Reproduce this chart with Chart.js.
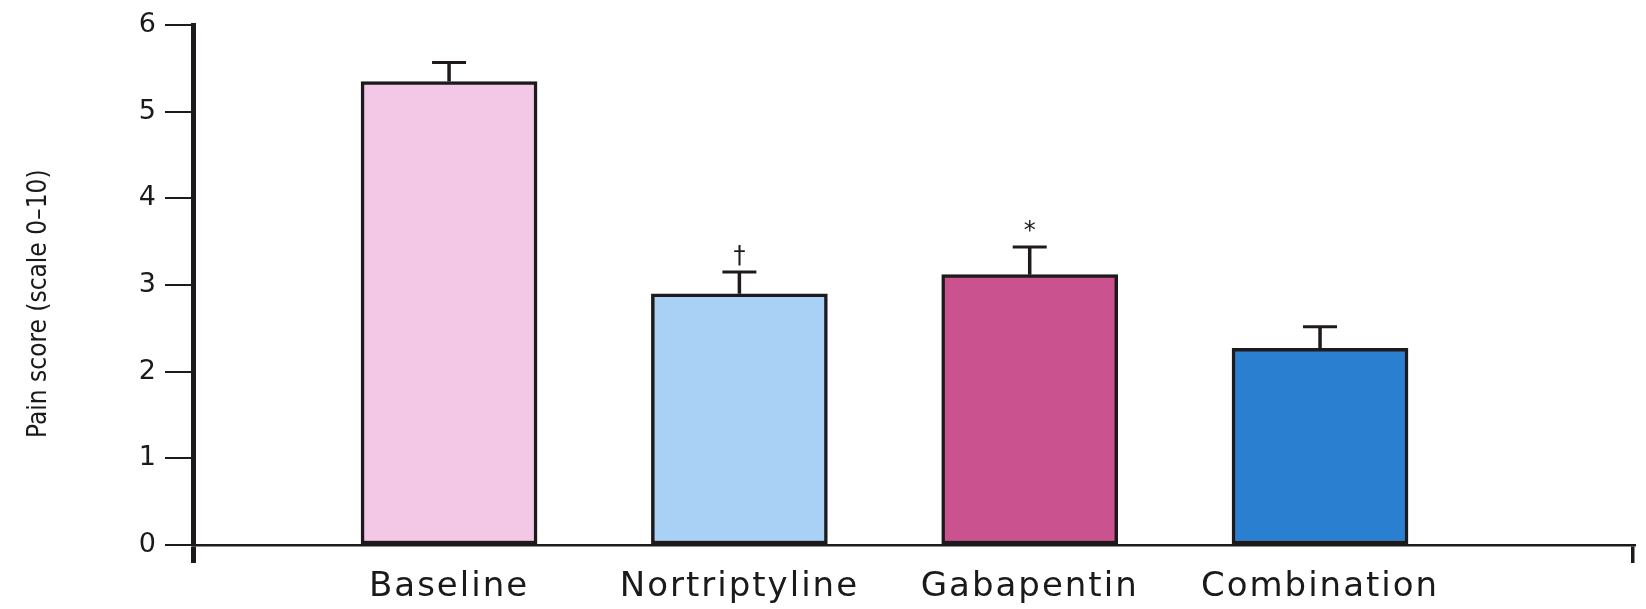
<!DOCTYPE html>
<html>
<head>
<meta charset="utf-8">
<script src="https://cdn.jsdelivr.net/npm/chart.js@4/dist/chart.umd.min.js"></script>
<style>
  html, body { margin: 0; padding: 0; background: #ffffff; }
  #wrap { width: 1646px; height: 609px; }
</style>
</head>
<body>
<div id="wrap"><canvas id="pain" width="1646" height="609"></canvas></div>
<script>
// Treatment groups and mean pain scores (0–10 scale) with upper SEM
const categories = ['Baseline', 'Nortriptyline', 'Gabapentin', 'Combination'];
const meanScores = [5.35, 2.90, 3.12, 2.27];
const semUpper = [0.22, 0.25, 0.32, 0.25];
const sigMarks = ['', '\u2020', '*', ''];
const yTickValues = [0, 1, 2, 3, 4, 5, 6];

const barColors = ['#f3c8e6', '#a9d1f6', '#c9528f', '#2b7fd1'];
const ink = '#1e1a1c';

// x range leaves open space left of the first bar and right of the last
const xMin = -0.882, xMax = 4.078;

// Upper error bars and significance marks, placed via the chart's scales
const errorBars = {
  id: 'errorBars',
  afterDatasetsDraw(chart) {
    const { ctx, scales: { y } } = chart;
    const meta = chart.getDatasetMeta(0);
    ctx.save();
    ctx.strokeStyle = ink;
    ctx.fillStyle = ink;
    meta.data.forEach((bar, i) => {
      const top = y.getPixelForValue(meanScores[i] + semUpper[i]);
      const x = bar.x;
      ctx.lineWidth = 3.5;
      ctx.beginPath();
      ctx.moveTo(x, bar.y);
      ctx.lineTo(x, top);
      ctx.stroke();
      ctx.lineWidth = 3;
      ctx.beginPath();
      ctx.moveTo(x - 17, top);
      ctx.lineTo(x + 17, top);
      ctx.stroke();
      if (sigMarks[i]) {
        ctx.font = '24px "DejaVu Sans"';
        ctx.textAlign = 'center';
        ctx.textBaseline = 'bottom';
        ctx.fillText(sigMarks[i], x, top - 3);
      }
    });
    ctx.restore();
  }
};

// Category names on the x axis use slightly wider letter spacing
function spaceCategoryLabels(scale) {
  if (scale._spaced) return;
  scale._spaced = true;
  const draw = scale.drawLabels;
  scale.drawLabels = function (area) {
    const ctx = this.ctx;
    const prev = ctx.letterSpacing;
    ctx.letterSpacing = '2px';
    draw.call(this, area);
    ctx.letterSpacing = prev || '0px';
  };
}

new Chart(document.getElementById('pain'), {
  type: 'bar',
  data: {
    datasets: [{
      data: categories.map((c, i) => ({ x: i, y: meanScores[i] })),
      backgroundColor: barColors,
      borderColor: ink,
      borderWidth: 3.5,
      borderSkipped: false,
      barThickness: 176
    }]
  },
  options: {
    responsive: false,
    animation: false,
    layout: { padding: { left: 0, right: 13, top: 16, bottom: 0 } },
    plugins: { legend: { display: false }, tooltip: { enabled: false } },
    scales: {
      x: {
        type: 'linear',
        offset: false,
        min: xMin,
        max: xMax,
        afterBuildTicks(scale) {
          scale.ticks = [{ value: xMin }].concat(categories.map((c, i) => ({ value: i })), [{ value: xMax }]);
        },
        afterFit(scale) { scale.height = 64; spaceCategoryLabels(scale); },
        border: { display: true, color: ink, width: 2.5 },
        grid: {
          display: true,
          offset: false,
          drawOnChartArea: false,
          drawTicks: true,
          tickLength: 18,
          lineWidth: (c) => (c.tick && c.tick.value === xMin) ? 5 : 3.5,
          color: (c) => (c.tick && Number.isInteger(c.tick.value)) ? 'rgba(0,0,0,0)' : ink
        },
        ticks: {
          autoSkip: false,
          maxRotation: 0,
          padding: 4,
          color: '#1a1a1a',
          font: { family: '"DejaVu Sans"', size: 34 },
          callback: (v) => Number.isInteger(v) && categories[v] !== undefined ? categories[v] : ''
        }
      },
      y: {
        min: 0,
        max: 6,
        afterBuildTicks(scale) {
          scale.ticks = yTickValues.map(v => ({ value: v }));
        },
        afterFit(scale) { scale.width = 193; },
        border: { display: true, color: ink, width: 5 },
        grid: {
          display: true,
          drawOnChartArea: false,
          drawTicks: true,
          tickLength: 28,
          lineWidth: 2,
          color: ink
        },
        ticks: {
          padding: 9,
          color: '#1a1a1a',
          font: { family: '"DejaVu Sans"', size: 27 }
        },
        title: {
          display: true,
          // trailing spaces nudge the rotated title slightly lower
          text: 'Pain score (scale 0\u201310)\u00a0\u00a0\u00a0\u00a0\u00a0',
          color: '#1a1a1a',
          font: { family: '"DejaVu Sans Condensed", "DejaVu Sans", sans-serif', size: 26 },
          padding: { top: 24, bottom: 0 }
        }
      }
    }
  },
  plugins: [errorBars]
});
</script>
</body>
</html>
